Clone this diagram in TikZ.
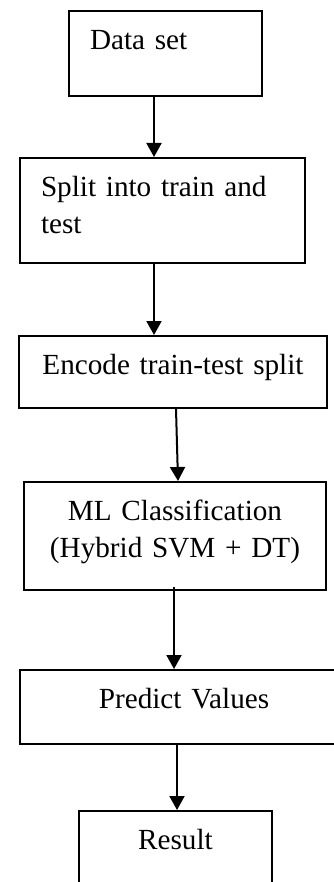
\documentclass[tikz,border=0pt]{standalone}
\usepackage{fontspec}
\setmainfont{Liberation Serif}
\usetikzlibrary{arrows.meta}
\begin{document}
\begin{tikzpicture}[x=1pt, y=-1pt,
                    every node/.style={font=\fontsize{29.2}{37}\selectfont},
                    box/.style={draw, line width=2pt, anchor=north west, inner xsep=21pt, inner ysep=0pt, text height=38.5pt},
                    flow/.style={line width=2pt, -{Triangle[width=15pt, length=14pt]}}]
                    \useasboundingbox (0,0) rectangle (334,882);

                    \node[box, text width=151pt, align=left, text depth=46.5pt] (data) at (68,10) {Data set};
                    \node[box, text width=243pt, align=left, text depth=66.5pt] (split) at (19,157) {Split into train and\\test};
                    \node[box, text width=266pt, align=center, text depth=33.5pt] (encode) at (18,335) {Encode train-test split};
                    \node[box, text width=260pt, align=center, text depth=69.5pt] (ml) at (23,481) {ML Classification\\(Hybrid SVM + DT)};
                    \node[box, text width=286pt, align=center, text depth=35.5pt] (predict) at (19,669) {Predict Values};
                    \node[box, text width=151pt, align=center, text depth=51.5pt] (result) at (78,810) {Result};

                    \draw[flow] ([xshift=-11.5pt]data.south) -- ([xshift=-8.5pt]split.north);
                    \draw[flow] ([xshift=-8.5pt]split.south) -- ([xshift=-19pt]encode.north);
                    \draw[flow] ([xshift=3pt]encode.south) -- ([xshift=3pt]ml.north);
                    \draw[flow] ([xshift=-1pt, yshift=4pt]ml.south) -- ([xshift=-10pt]predict.north);
                    \draw[flow] ([xshift=-7pt]predict.south) -- ([xshift=1.5pt]result.north);
                \end{tikzpicture}
\end{document}
